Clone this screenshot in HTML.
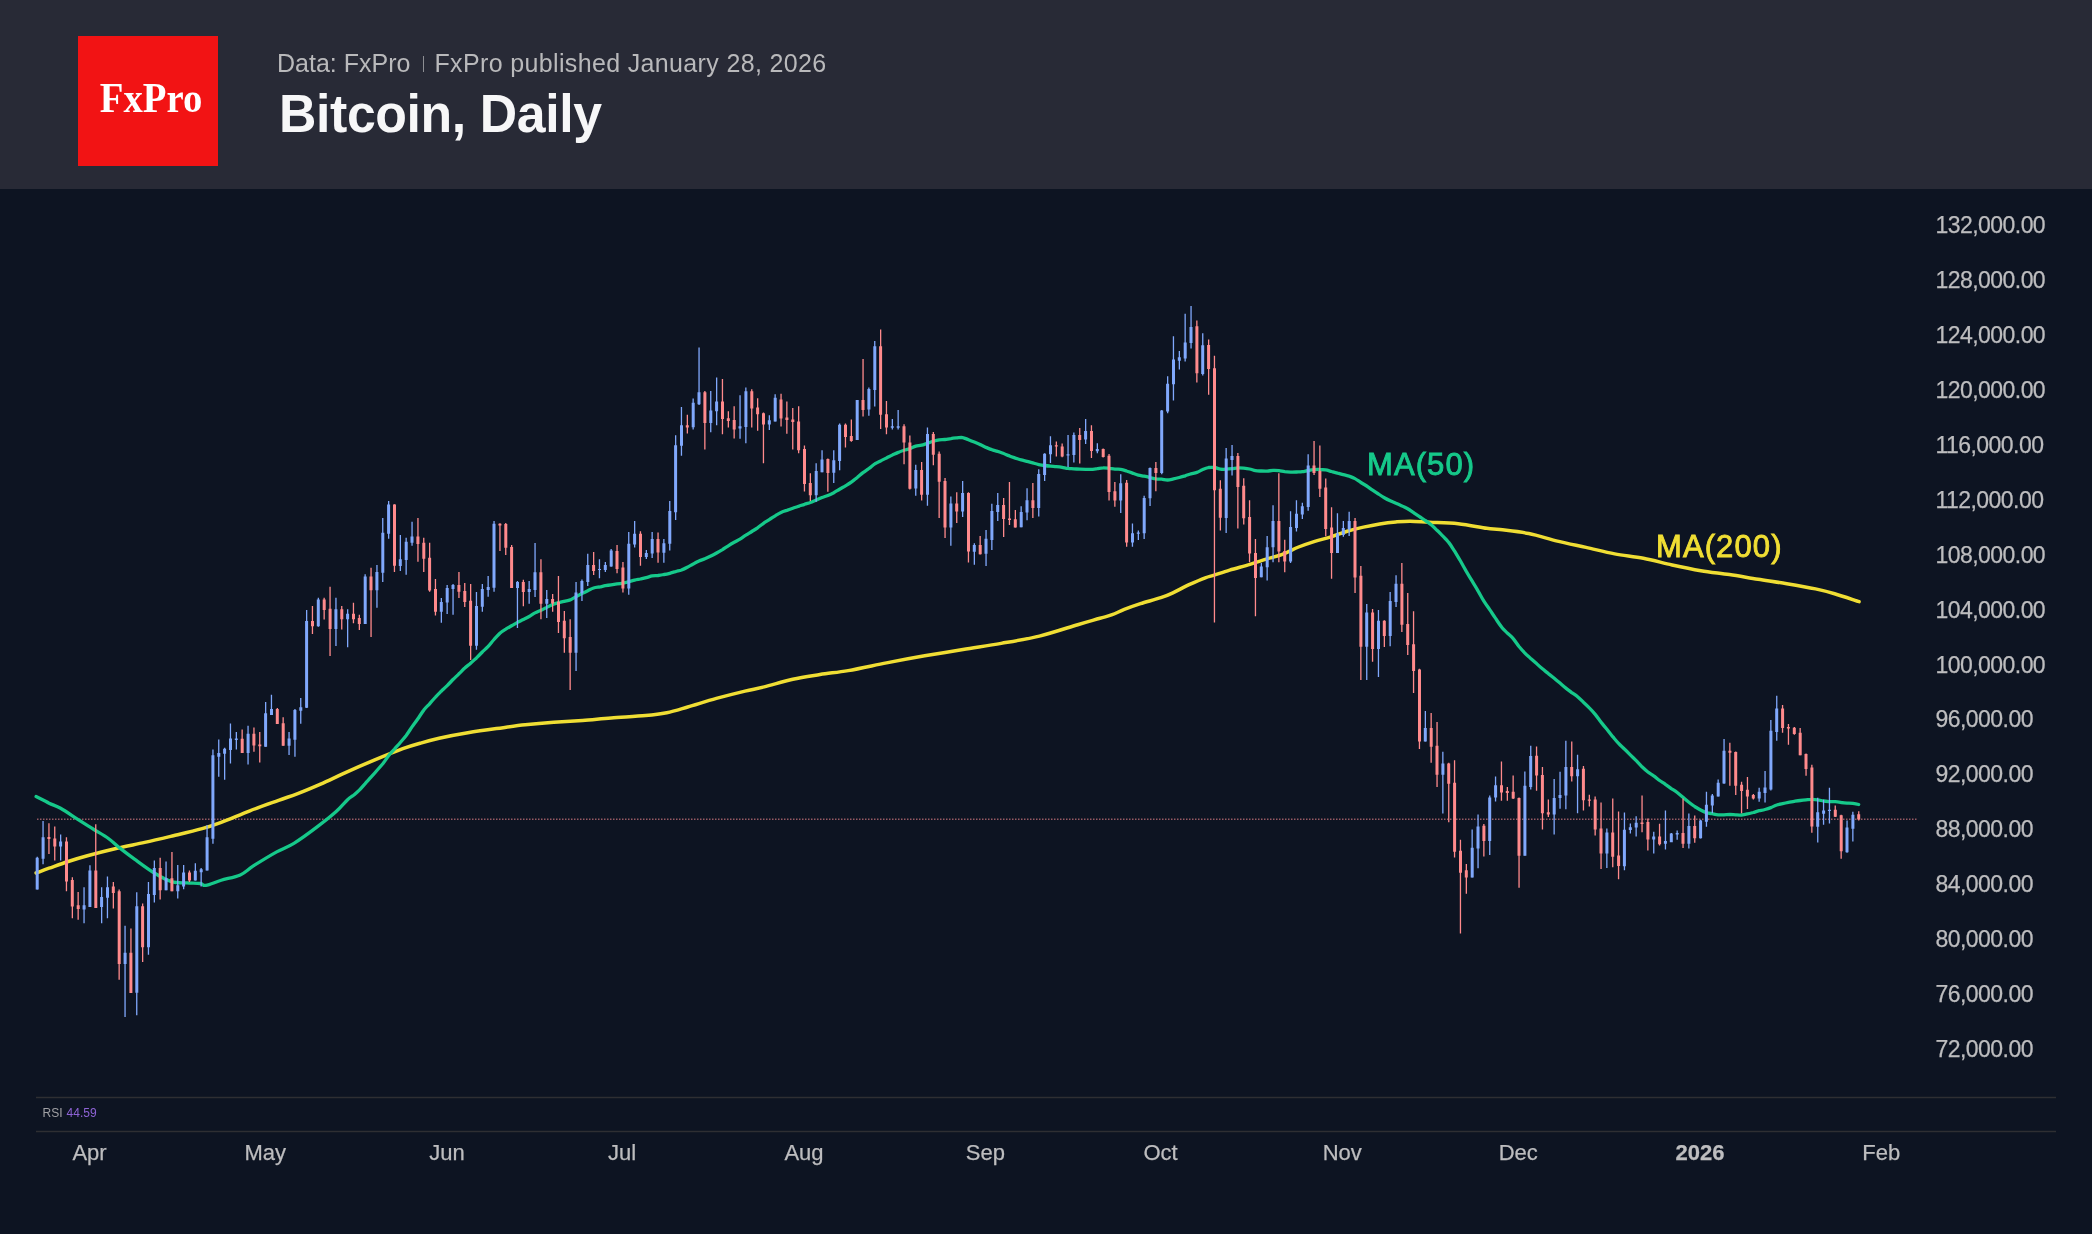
<!DOCTYPE html>
<html><head><meta charset="utf-8"><style>
html,body{margin:0;padding:0;}
body{width:2092px;height:1234px;background:#0d1422;position:relative;overflow:hidden;font-family:"Liberation Sans",sans-serif;}
#hdr{position:absolute;left:0;top:0;width:2092px;height:189px;background:#282a36;}
#logo{position:absolute;left:78px;top:36px;width:140px;height:129.5px;background:#f21314;}
#logo span{position:absolute;left:2.5px;top:40px;width:140px;text-align:center;font-family:"Liberation Serif",serif;font-weight:bold;color:#fff;font-size:43px;line-height:1;letter-spacing:0px;transform:scaleX(0.9);transform-origin:70px 0;}
.sub{position:absolute;top:48px;color:#b9b9bb;font-size:25px;line-height:30px;white-space:nowrap;}
#sep{position:absolute;left:422.5px;top:56px;width:1.5px;height:16px;background:#8d8e93;}
#title{position:absolute;left:278.5px;top:84px;color:#f7f7f8;font-size:54.5px;font-weight:bold;line-height:60px;white-space:nowrap;letter-spacing:-0.4px;transform:scaleX(0.95);transform-origin:0 0;}
svg{position:absolute;left:0;top:0;will-change:transform;}
#hdr{will-change:transform;}
.yl{font-size:23px;fill:#bdbdbf;letter-spacing:-0.55px;stroke:#bdbdbf;stroke-width:0.25px;}
.ml{font-size:22px;fill:#bdbdbf;stroke:#bdbdbf;stroke-width:0.25px;}
.ml.b{font-weight:bold;}
.rsi{font-size:12px;fill:#a0a0a4;}
.rsiv{font-size:12px;fill:#8e63d6;}
.ma{font-size:31px;stroke-width:0.9px;letter-spacing:1.1px;}
</style></head><body>
<div id="hdr">
<div id="logo"><span id="lt">FxPro</span></div>
<div class="sub" style="left:277px">Data: FxPro</div><div id="sep"></div><div class="sub" style="left:434.5px;letter-spacing:0.35px">FxPro published January 28, 2026</div>
<div id="title">Bitcoin, Daily</div>
</div>
<svg width="2092" height="1234" viewBox="0 0 2092 1234">
<line x1="36" y1="1097.5" x2="2056" y2="1097.5" stroke="#2e2f33" stroke-width="1.3"/>
<line x1="36" y1="1131.5" x2="2056" y2="1131.5" stroke="#2e2f33" stroke-width="1.3"/>
<line x1="37" y1="819.2" x2="1918" y2="819.2" stroke="#e08088" stroke-opacity="0.65" stroke-width="1.5" stroke-dasharray="1.5 1.5"/>
<path d="M36.1 873C38.3 872.2 43.8 870.1 49.1 868.2C54.5 866.3 61.8 863.6 68.2 861.5C74.6 859.4 79.4 858 87.4 855.8C95.4 853.6 106.5 850.7 116 848.5C125.5 846.3 135.1 844.5 144.7 842.4C154.3 840.3 163.8 838 173.4 835.7C183 833.4 194.1 830.8 202.1 828.6C210.1 826.4 213.2 825.3 221.2 822.3C229.2 819.3 240.3 814.5 249.9 810.8C259.5 807.1 270.6 803.2 278.6 800.3C286.6 797.4 290.7 796.3 297.7 793.6C304.7 790.9 312.6 787.6 320.6 784.1C328.6 780.6 336.6 776.6 345.5 772.6C354.4 768.6 364.6 764.2 374.2 760.2C383.8 756.2 395.2 751.5 402.8 748.7C410.4 745.9 413.9 745 420 743.3C426.1 741.5 431.1 740 439.1 738.2C447.1 736.5 458.2 734.4 467.8 732.8C477.4 731.2 486.9 729.9 496.5 728.6C506.1 727.3 515.7 725.8 525.2 724.8C534.8 723.8 544.2 723 553.8 722.3C563.3 721.6 572.9 721.1 582.5 720.4C592.1 719.7 600.7 718.7 611.2 717.9C621.7 717.1 636.4 716.5 645.6 715.6C654.9 714.7 659.7 714.1 666.7 712.7C673.7 711.3 679.4 709.4 687.7 707C696 704.6 706.9 701 716.4 698.4C725.9 695.8 737 693 745 691.1C753 689.2 756.2 688.9 764.2 686.9C772.2 684.9 783.5 681.4 792.8 679.3C802.1 677.2 810.8 676 820 674.5C829.2 673 837.1 672.5 848.2 670.6C859.3 668.7 873.8 665.4 886.5 662.9C899.2 660.4 912 658 924.7 655.8C937.5 653.6 950.2 651.6 963 649.5C975.8 647.4 988.5 645.6 1001.2 643.4C1013.9 641.2 1026.7 639.2 1039.4 636.1C1052.2 633 1067.6 627.7 1077.7 624.7C1087.8 621.7 1094.2 620 1100 618.3C1105.8 616.6 1108.2 616.2 1112.2 614.7C1116.2 613.2 1119.6 611.2 1124.3 609.4C1129 607.6 1134.4 605.7 1140.5 603.7C1146.6 601.8 1155.4 599.5 1160.8 597.7C1166.2 595.9 1168.2 595 1172.9 592.8C1177.6 590.6 1183.7 587.2 1189.1 584.7C1194.5 582.2 1201.2 579.3 1205.3 577.8C1209.4 576.2 1209.4 576.7 1213.5 575.4C1217.6 574.1 1223.6 571.9 1229.7 570.1C1235.8 568.3 1243.9 566.2 1250 564.4C1256.1 562.6 1260.8 560.9 1266.2 559.2C1271.6 557.5 1277 556.3 1282.4 554.3C1287.8 552.3 1293.2 549.2 1298.6 547C1304 544.8 1309.4 543 1314.8 541.3C1320.2 539.6 1325.6 538.6 1331 536.9C1336.4 535.2 1341.8 532.8 1347.2 531.2C1352.6 529.6 1358.1 528.3 1363.5 527.1C1368.9 525.9 1374.3 524.8 1379.7 523.9C1385.1 523 1390.9 522.3 1395.9 521.9C1401 521.5 1404.4 521.2 1410 521.2C1415.6 521.2 1421.4 521.8 1429.4 522.2C1437.4 522.6 1448.5 522.7 1458.1 523.7C1467.7 524.7 1479.8 527.3 1486.8 528.3C1493.8 529.3 1493 528.7 1500 529.6C1507 530.5 1519.1 531.6 1528.7 533.5C1538.3 535.4 1547.9 538.8 1557.4 541.1C1567 543.4 1576.5 545.3 1586 547.4C1595.5 549.5 1605.1 552.1 1614.7 553.9C1624.3 555.7 1633.8 556.4 1643.4 558.3C1653 560.1 1662.5 562.9 1672.1 565C1681.7 567.1 1691.2 569.1 1700.8 570.7C1710.3 572.3 1719.9 573.2 1729.4 574.6C1739 576 1748.5 577.8 1758.1 579.3C1767.7 580.8 1777.2 582.1 1786.8 583.7C1796.4 585.3 1807.5 587.2 1815.5 588.9C1823.5 590.6 1827.3 591.6 1834.6 593.7C1841.9 595.8 1855 600.4 1859.1 601.7" fill="none" stroke="#f0de34" stroke-width="3.5" stroke-linejoin="round" stroke-linecap="round"/>
<path d="M36.1 796.5C38.3 797.6 45 801.2 49.1 803.2C53.2 805.2 55.8 805.6 60.6 808.3C65.4 811 72.4 815.9 77.8 819.4C83.2 822.9 88 825.8 93.1 829C98.2 832.2 103.9 835.3 108.4 838.5C112.9 841.7 115.4 844.6 119.9 848.1C124.4 851.6 129.5 855.5 135.2 859.6C140.9 863.8 148.2 869.3 154.3 873C160.4 876.7 166.1 880 171.5 881.6C176.9 883.2 182 882.6 186.8 882.9C191.6 883.2 197 883.1 200.2 883.5C203.4 883.9 202.4 885.9 205.9 885.4C209.4 884.9 215.5 882 221.2 880.2C226.9 878.5 234.9 877.3 240.3 874.9C245.7 872.5 247.6 869.5 253.7 865.7C259.8 861.9 270 855.6 276.7 851.9C283.4 848.2 287.2 847.4 293.9 843.3C300.6 839.2 309.8 832.4 316.8 827.1C323.8 821.9 330.8 816.4 335.9 811.8C341 807.2 344.7 802.5 347.6 799.7C350.6 797 351.5 796.9 353.5 795.3C355.4 793.7 357.4 792.1 359.3 790.2C361.3 788.2 363.2 785.7 365.2 783.6C367.1 781.4 369.1 779.4 371 777.2C373 775 375 772.8 376.9 770.5C378.9 768.3 380.8 766.2 382.8 763.8C384.7 761.3 386.7 758.1 388.6 755.7C390.6 753.2 392.5 751.3 394.5 749.1C396.4 746.9 398.4 744.8 400.3 742.5C402.3 740.2 404.2 738.1 406.2 735.5C408.1 732.9 410.1 729.7 412 726.9C414 724.1 416 721.6 417.9 718.8C419.9 715.9 421.8 712.6 423.8 710.1C425.7 707.6 427.7 705.9 429.6 703.8C431.6 701.6 433.5 699.1 435.5 697.1C437.4 695 439.4 693.1 441.3 691.2C443.3 689.3 445.2 687.6 447.2 685.6C449.1 683.7 451.1 681.5 453 679.5C455 677.5 457 675.7 458.9 673.8C460.9 671.9 462.8 669.8 464.8 668C466.7 666.2 468.7 664.9 470.6 663.2C472.6 661.5 474.5 659.7 476.5 657.9C478.4 656 480.4 654 482.3 652C484.3 650.1 486.2 648.5 488.2 646.4C490.1 644.3 492.1 641.6 494 639.5C496 637.3 498 635 499.9 633.2C501.9 631.5 503.8 630.3 505.8 629.1C507.7 627.8 509.7 626.9 511.6 625.8C513.6 624.7 515.5 623.5 517.5 622.4C519.4 621.4 521.4 620.5 523.3 619.5C525.3 618.5 527.2 617.6 529.2 616.5C531.1 615.4 533.1 613.9 535 612.9C537 611.9 538.9 611.2 540.9 610.3C542.9 609.4 544.8 608.3 546.8 607.4C548.7 606.4 550.7 605.3 552.6 604.5C554.6 603.7 556.5 603.2 558.5 602.7C560.4 602.1 562.4 601.7 564.3 601.3C566.3 600.8 568.2 600.6 570.2 599.9C572.1 599.1 574.1 597.8 576 596.8C578 595.7 579.9 594.6 581.9 593.6C583.9 592.6 585.8 591.7 587.8 590.7C589.7 589.8 591.7 588.6 593.6 588C595.6 587.4 597.5 587.3 599.5 587C601.4 586.6 603.4 586.1 605.3 585.7C607.3 585.4 609.2 585.1 611.2 584.8C613.1 584.5 615.1 584.2 617 583.9C619 583.7 620.9 583.5 622.9 583.1C624.9 582.8 626.8 582.3 628.8 581.8C630.7 581.3 632.7 580.6 634.6 580.1C636.6 579.6 638.5 579.4 640.5 579C642.4 578.6 644.4 578.2 646.3 577.6C648.3 577.1 650.2 576.3 652.2 575.9C654.1 575.6 656.1 575.7 658 575.5C660 575.2 661.9 574.9 663.9 574.5C665.9 574.2 667.8 573.8 669.8 573.3C671.7 572.8 673.7 572.1 675.6 571.6C677.6 571 679.5 570.7 681.5 570C683.4 569.2 685.4 568.2 687.3 567.2C689.3 566.2 691.2 565.1 693.2 564.1C695.1 563 697.1 562 699 561.1C701 560.2 702.9 559.6 704.9 558.8C706.9 558 708.8 557.1 710.8 556.1C712.7 555.2 714.7 554.1 716.6 553C718.6 551.9 720.5 550.8 722.5 549.6C724.4 548.4 726.4 547 728.3 545.8C730.3 544.5 732.2 543.4 734.2 542.3C736.1 541.2 738.1 540.3 740 539.1C742 537.9 743.9 536.4 745.9 535.2C747.8 533.9 749.8 532.8 751.8 531.5C753.7 530.3 755.7 529.1 757.6 527.8C759.6 526.4 761.5 524.7 763.5 523.3C765.4 522 767.4 520.9 769.3 519.6C771.3 518.4 773.2 517 775.2 515.8C777.1 514.6 779.1 513.3 781 512.4C783 511.5 784.9 511 786.9 510.4C788.8 509.7 790.8 509 792.8 508.3C794.7 507.6 796.7 507 798.6 506.3C800.6 505.7 802.5 504.9 804.5 504.3C806.4 503.6 808.4 503.2 810.3 502.5C812.3 501.8 814.2 500.9 816.2 500.1C818.1 499.3 820.1 498.3 822 497.5C824 496.8 825.9 496.3 827.9 495.5C829.8 494.7 831.8 493.7 833.8 492.7C835.7 491.6 837.7 490.3 839.6 489.2C841.6 488 843.5 487 845.5 485.8C847.4 484.7 849.4 483.6 851.3 482.2C853.3 480.8 855.2 479.1 857.2 477.5C859.1 475.9 861.1 474.1 863 472.6C865 471.1 866.9 470 868.9 468.5C870.8 467.1 872.8 465.1 874.8 463.9C876.7 462.6 878.7 461.8 880.6 460.9C882.6 459.9 884.5 458.9 886.5 458C888.4 457 890.4 456.1 892.3 455.1C894.3 454.2 896.2 453.2 898.2 452.4C900.1 451.5 902.1 450.8 904 450.2C906 449.6 907.9 449.3 909.9 448.6C911.8 447.9 913.8 446.8 915.8 446.2C917.7 445.7 919.7 445.7 921.6 445.2C923.6 444.7 925.5 443.9 927.5 443.3C929.4 442.6 931.4 441.8 933.3 441.2C935.3 440.6 937.2 440.1 939.2 439.8C941.1 439.5 943.1 439.8 945 439.5C947 439.3 948.9 438.8 950.9 438.6C952.8 438.3 954.8 438.1 956.7 437.9C958.7 437.8 960.7 437.3 962.6 437.6C964.6 437.9 966.5 439 968.5 439.7C970.4 440.5 972.4 441.3 974.3 442.1C976.3 442.9 978.2 443.8 980.2 444.6C982.1 445.5 984.1 446.5 986 447.4C988 448.2 989.9 449.1 991.9 449.7C993.8 450.4 995.8 450.7 997.7 451.4C999.7 452 1001.7 452.8 1003.6 453.5C1005.6 454.3 1007.5 455.2 1009.5 455.9C1011.4 456.7 1013.4 457.4 1015.3 458.1C1017.3 458.7 1019.2 459.4 1021.2 459.9C1023.1 460.4 1025.1 460.8 1027 461.3C1029 461.8 1030.9 462.4 1032.9 462.9C1034.8 463.5 1036.8 464.2 1038.7 464.6C1040.7 465 1042.7 465.3 1044.6 465.5C1046.6 465.8 1048.5 466 1050.5 466.1C1052.4 466.3 1054.4 466.4 1056.3 466.6C1058.3 466.8 1060.2 467 1062.2 467.3C1064.1 467.6 1066.1 468.2 1068 468.4C1070 468.7 1071.9 468.6 1073.9 468.8C1075.8 468.9 1077.8 469.1 1079.7 469.2C1081.7 469.3 1083.7 469.3 1085.6 469.3C1087.6 469.4 1089.5 469.5 1091.5 469.4C1093.4 469.2 1095.4 468.9 1097.3 468.7C1099.3 468.4 1101.2 467.9 1103.2 467.9C1105.1 467.8 1107.1 468.1 1109 468.3C1111 468.5 1112.9 469 1114.9 469.1C1116.8 469.3 1118.8 469 1120.7 469.3C1122.7 469.6 1124.6 470.3 1126.6 471C1128.6 471.6 1130.5 472.5 1132.5 473.1C1134.4 473.8 1136.4 474.6 1138.3 475.1C1140.3 475.6 1142.2 475.8 1144.2 476.2C1146.1 476.6 1148.1 477.1 1150 477.6C1152 478 1153.9 478.5 1155.9 478.8C1157.8 479.1 1159.8 479 1161.7 479.2C1163.7 479.4 1165.6 480.1 1167.6 480C1169.6 479.9 1171.5 479.3 1173.5 478.9C1175.4 478.5 1177.4 478 1179.3 477.5C1181.3 477 1183.2 476.4 1185.2 475.8C1187.1 475.2 1189.1 474.4 1191 473.8C1193 473.3 1194.9 473.1 1196.9 472.4C1198.8 471.7 1200.8 470.4 1202.7 469.6C1204.7 468.7 1206.6 467.9 1208.6 467.5C1210.6 467.2 1212.5 467.2 1214.5 467.5C1216.4 467.7 1218.4 468.8 1220.3 469.1C1222.3 469.4 1224.2 469.3 1226.2 469.2C1228.1 469.1 1230.1 468.9 1232 468.7C1234 468.5 1235.9 468 1237.9 467.9C1239.8 467.8 1241.8 468 1243.7 468.2C1245.7 468.4 1247.6 468.6 1249.6 469C1251.6 469.4 1253.5 470.4 1255.5 470.7C1257.4 471.1 1259.4 471 1261.3 471C1263.3 471.1 1265.2 471.2 1267.2 471.1C1269.1 471 1271.1 470.5 1273 470.4C1275 470.3 1276.9 470.4 1278.9 470.6C1280.8 470.9 1282.8 471.4 1284.7 471.7C1286.7 471.9 1288.6 472 1290.6 472.1C1292.6 472.2 1294.5 472.1 1296.5 472C1298.4 471.9 1300.4 472 1302.3 471.7C1304.3 471.5 1306.2 470.8 1308.2 470.5C1310.1 470.2 1312.1 469.9 1314 469.7C1316 469.5 1317.9 469.4 1319.9 469.5C1321.8 469.5 1323.8 469.6 1325.7 469.9C1327.7 470.2 1329.6 471 1331.6 471.5C1333.5 472 1335.5 472.5 1337.5 473.1C1339.4 473.6 1341.4 474.2 1343.3 474.7C1345.3 475.3 1347.2 475.6 1349.2 476.2C1351.1 476.9 1353.1 477.6 1355 478.6C1357 479.7 1358.9 481.3 1360.9 482.5C1362.8 483.7 1364.8 484.8 1366.7 486C1368.7 487.3 1370.6 488.9 1372.6 490.2C1374.5 491.5 1376.5 492.8 1378.5 494C1380.4 495.3 1382.4 496.6 1384.3 497.7C1386.3 498.8 1388.2 499.8 1390.2 500.8C1392.1 501.7 1394.1 502.4 1396 503.3C1398 504.2 1399.9 505 1401.9 505.9C1403.8 506.9 1405.8 507.7 1407.7 508.8C1409.7 509.9 1411.6 511.3 1413.6 512.6C1415.5 513.9 1417.5 515.3 1419.5 516.6C1421.4 517.9 1423.4 519.1 1425.3 520.5C1427.3 521.8 1429.2 523.1 1431.2 524.8C1433.1 526.4 1435.1 528.4 1437 530.3C1439 532.2 1440.9 534.2 1442.9 536.2C1444.8 538.2 1446.8 539.9 1448.7 542.4C1450.7 544.9 1452.6 548.1 1454.6 551.2C1456.5 554.3 1458.5 557.7 1460.5 561C1462.4 564.4 1464.4 568 1466.3 571.4C1468.3 574.7 1470.2 577.9 1472.2 581.2C1474.1 584.4 1476.1 587.5 1478 590.9C1480 594.2 1481.9 598 1483.9 601.2C1485.8 604.3 1487.8 606.8 1489.7 609.6C1491.7 612.5 1493.6 615.6 1495.6 618.4C1497.5 621.3 1499.5 624.5 1501.5 626.9C1503.4 629.3 1505.4 631 1507.3 633C1509.3 634.9 1511.2 636.3 1513.2 638.6C1515.1 640.8 1517.1 644.1 1519 646.5C1521 648.9 1522.9 651.1 1524.9 653.1C1526.8 655.1 1528.8 656.7 1530.7 658.5C1532.7 660.2 1534.6 661.9 1536.6 663.6C1538.5 665.4 1540.5 667.2 1542.4 668.8C1544.4 670.5 1546.4 672 1548.3 673.6C1550.3 675.1 1552.2 676.6 1554.2 678.2C1556.1 679.8 1558.1 681.5 1560 683.1C1562 684.8 1563.9 686.5 1565.9 688.1C1567.8 689.6 1569.8 691.1 1571.7 692.6C1573.7 694 1575.6 695.1 1577.6 696.7C1579.5 698.3 1581.5 700.3 1583.4 702.2C1585.4 704 1587.4 705.9 1589.3 707.9C1591.3 709.9 1593.2 712 1595.2 714.4C1597.1 716.7 1599.1 719.6 1601 722.1C1603 724.6 1604.9 726.9 1606.9 729.3C1608.8 731.7 1610.8 734.3 1612.7 736.7C1614.7 739 1616.6 741.4 1618.6 743.4C1620.5 745.5 1622.5 747 1624.4 749C1626.4 750.9 1628.4 752.9 1630.3 754.8C1632.3 756.8 1634.2 758.7 1636.2 760.7C1638.1 762.7 1640.1 764.9 1642 766.8C1644 768.7 1645.9 770.5 1647.9 772C1649.8 773.5 1651.8 774.4 1653.7 775.8C1655.7 777.2 1657.6 779 1659.6 780.5C1661.5 781.9 1663.5 782.9 1665.4 784.3C1667.4 785.6 1669.4 787.2 1671.3 788.6C1673.3 789.9 1675.2 791 1677.2 792.5C1679.1 794 1681.1 795.7 1683 797.3C1685 799 1686.9 800.7 1688.9 802.2C1690.8 803.7 1692.8 805.2 1694.7 806.5C1696.7 807.7 1698.6 808.9 1700.6 810C1702.5 811 1704.5 812 1706.4 812.6C1708.4 813.3 1710.3 813.4 1712.3 813.7C1714.3 814.1 1716.2 814.6 1718.2 814.8C1720.1 815 1722.1 815 1724 814.9C1726 814.8 1727.9 814.5 1729.9 814.5C1731.8 814.5 1733.8 814.8 1735.7 814.9C1737.7 815 1739.6 815.2 1741.6 815C1743.5 814.9 1745.5 814.4 1747.4 813.9C1749.4 813.5 1751.3 813 1753.3 812.5C1755.3 811.9 1757.2 811.2 1759.2 810.7C1761.1 810.3 1763.1 810.1 1765 809.5C1767 809 1768.9 808.4 1770.9 807.6C1772.8 806.9 1774.8 805.6 1776.7 805C1778.7 804.3 1780.6 804 1782.6 803.6C1784.5 803.2 1786.5 802.8 1788.4 802.4C1790.4 802.1 1792.3 801.6 1794.3 801.3C1796.3 801 1798.2 800.7 1800.2 800.5C1802.1 800.3 1804.1 800.1 1806 799.9C1808 799.7 1809.9 799.4 1811.9 799.4C1813.8 799.3 1815.8 799.6 1817.7 799.9C1819.7 800.1 1821.6 800.7 1823.6 801C1825.5 801.3 1827.5 801.5 1829.4 801.7C1831.4 801.8 1833.3 801.6 1835.3 801.7C1837.3 801.9 1839.2 802.2 1841.2 802.5C1843.1 802.7 1845.1 802.9 1847 803.1C1849 803.2 1850.9 803.2 1852.9 803.4C1854.8 803.7 1857.8 804.3 1858.7 804.5" fill="none" stroke="#16c98a" stroke-width="3.3" stroke-linejoin="round" stroke-linecap="round"/>
<path d="M36.6 856.8h1.3v32.6h-1.3zM42.4 820.9h1.3v43.4h-1.3zM60 834.5h1.3v26.1h-1.3zM83.4 887.2h1.3v36.1h-1.3zM89.3 865.2h1.3v41.9h-1.3zM101 887.2h1.3v36.1h-1.3zM106.8 876.4h1.3v41.9h-1.3zM124.4 925.8h1.3v91.3h-1.3zM136.1 892.2h1.3v123h-1.3zM147.8 882h1.3v72.7h-1.3zM153.7 860.5h1.3v41.9h-1.3zM165.4 861.4h1.3v28.9h-1.3zM177.1 865.1h1.3v33.5h-1.3zM183 865.1h1.3v24.2h-1.3zM194.7 863.3h1.3v17.1h-1.3zM200.5 867.9h1.3v18.6h-1.3zM206.4 825.1h1.3v45.3h-1.3zM212.3 749.6h1.3v94.1h-1.3zM218.1 739.4h1.3v37.3h-1.3zM224 747.8h1.3v32h-1.3zM229.8 723.5h1.3v40.1h-1.3zM235.7 731.9h1.3v17.7h-1.3zM247.4 725.8h1.3v38.8h-1.3zM265 702.1h1.3v44.7h-1.3zM270.8 694.7h1.3v20.4h-1.3zM288.4 732h1.3v23h-1.3zM294.3 709h1.3v47.7h-1.3zM300.1 698h1.3v25.8h-1.3zM306 610h1.3v97.9h-1.3zM317.7 597.7h1.3v29.1h-1.3zM335.3 597.7h1.3v48.2h-1.3zM347 609.3h1.3v37.9h-1.3zM364.5 574.3h1.3v49.7h-1.3zM376.3 564.9h1.3v42.9h-1.3zM382.1 518h1.3v63.9h-1.3zM388 500.9h1.3v37.9h-1.3zM399.7 534.9h1.3v36h-1.3zM405.5 537.8h1.3v37h-1.3zM411.4 521.8h1.3v23.9h-1.3zM440.7 597.9h1.3v24.8h-1.3zM446.5 585.1h1.3v28.9h-1.3zM452.4 584.1h1.3v30.6h-1.3zM475.8 592.1h1.3v57.6h-1.3zM481.7 584.1h1.3v27.7h-1.3zM487.5 576h1.3v20.7h-1.3zM493.4 520.9h1.3v70.9h-1.3zM516.8 581.1h1.3v47h-1.3zM528.5 581.1h1.3v22.7h-1.3zM534.4 543h1.3v54h-1.3zM546.1 590h1.3v28.1h-1.3zM575.4 581.9h1.3v89.2h-1.3zM581.3 579.5h1.3v21.4h-1.3zM587.1 553.8h1.3v32.1h-1.3zM598.8 559.2h1.3v19h-1.3zM604.7 561.9h1.3v10.2h-1.3zM610.5 549h1.3v17.8h-1.3zM628.1 532h1.3v62.7h-1.3zM634 521.1h1.3v26.3h-1.3zM645.7 550.1h1.3v8.8h-1.3zM651.5 532h1.3v25.9h-1.3zM663.2 538.9h1.3v23.8h-1.3zM669.1 501.1h1.3v49.5h-1.3zM675 435.2h1.3v84.8h-1.3zM680.8 406.9h1.3v48.8h-1.3zM692.5 398.5h1.3v30.9h-1.3zM698.4 347.4h1.3v57.5h-1.3zM710.1 390.9h1.3v41.3h-1.3zM716 377.5h1.3v47.8h-1.3zM739.4 395.2h1.3v43.5h-1.3zM745.2 387.5h1.3v55.8h-1.3zM768.7 415.2h1.3v14.9h-1.3zM774.5 394.3h1.3v27.1h-1.3zM815.5 463.3h1.3v38.5h-1.3zM821.4 450.2h1.3v22h-1.3zM833.1 450.2h1.3v32.8h-1.3zM839 423.5h1.3v46.7h-1.3zM856.5 400h1.3v40h-1.3zM868.2 387.4h1.3v28.4h-1.3zM874.1 341.1h1.3v65.3h-1.3zM891.7 418.9h1.3v10.5h-1.3zM897.5 410.1h1.3v19.4h-1.3zM915.1 464.8h1.3v30.9h-1.3zM926.8 427.4h1.3v78.3h-1.3zM950.2 496.4h1.3v49.3h-1.3zM962 481.1h1.3v35.8h-1.3zM973.7 543.2h1.3v21.6h-1.3zM985.4 530.1h1.3v35.9h-1.3zM991.2 503.8h1.3v46.1h-1.3zM997.1 493h1.3v28h-1.3zM1020.5 506.2h1.3v21h-1.3zM1026.4 488.2h1.3v32.1h-1.3zM1038.1 469.3h1.3v47.1h-1.3zM1044 453.2h1.3v27.7h-1.3zM1049.8 436.2h1.3v26.8h-1.3zM1067.4 435h1.3v32.1h-1.3zM1073.2 432.4h1.3v30h-1.3zM1085 419h1.3v25.1h-1.3zM1096.7 443.2h1.3v10.1h-1.3zM1120.1 474.3h1.3v38.7h-1.3zM1131.8 523.6h1.3v23.2h-1.3zM1137.7 530.5h1.3v9.5h-1.3zM1143.5 495.8h1.3v43.2h-1.3zM1149.4 467.4h1.3v38.5h-1.3zM1161.1 409.9h1.3v64.4h-1.3zM1167 376.2h1.3v37.1h-1.3zM1172.8 336.2h1.3v64.4h-1.3zM1178.7 350.9h1.3v18.5h-1.3zM1184.5 313.7h1.3v47.8h-1.3zM1190.4 305.9h1.3v42.5h-1.3zM1202.1 333.3h1.3v42.1h-1.3zM1225.5 448h1.3v84.9h-1.3zM1231.4 445h1.3v30.6h-1.3zM1260.7 563h1.3v14.3h-1.3zM1266.5 535.9h1.3v44.7h-1.3zM1272.4 505.3h1.3v57h-1.3zM1289.9 511.3h1.3v51.7h-1.3zM1295.8 500.3h1.3v31.1h-1.3zM1301.7 502.8h1.3v16.1h-1.3zM1307.5 454.3h1.3v56.5h-1.3zM1336.8 513.2h1.3v39.7h-1.3zM1342.7 521h1.3v15.8h-1.3zM1348.5 511.8h1.3v24.3h-1.3zM1366.1 604.1h1.3v76h-1.3zM1377.8 610.1h1.3v66.9h-1.3zM1389.5 591.9h1.3v54.3h-1.3zM1395.4 575.3h1.3v31.8h-1.3zM1424.7 710.9h1.3v30.6h-1.3zM1442.2 751.7h1.3v61.9h-1.3zM1471.5 829.5h1.3v48.1h-1.3zM1477.4 814.4h1.3v53.9h-1.3zM1489.1 795.5h1.3v59.5h-1.3zM1494.9 776.5h1.3v25h-1.3zM1524.2 771.6h1.3v84h-1.3zM1530.1 745.7h1.3v43.7h-1.3zM1553.5 779.1h1.3v55.4h-1.3zM1559.4 771.8h1.3v36.9h-1.3zM1565.2 740.7h1.3v68.5h-1.3zM1576.9 754.7h1.3v58.6h-1.3zM1606.2 828.6h1.3v39.4h-1.3zM1623.8 812.6h1.3v57.6h-1.3zM1629.7 823.5h1.3v9.9h-1.3zM1635.5 816.2h1.3v20.4h-1.3zM1653.1 831.7h1.3v21.9h-1.3zM1664.8 810.5h1.3v39h-1.3zM1670.7 832.9h1.3v9.2h-1.3zM1676.5 830.5h1.3v9.2h-1.3zM1688.2 813.5h1.3v35.1h-1.3zM1699.9 819.7h1.3v18.9h-1.3zM1705.8 791.7h1.3v35.1h-1.3zM1711.7 794h1.3v19.3h-1.3zM1717.5 779.6h1.3v16.9h-1.3zM1723.4 739h1.3v44.7h-1.3zM1758.5 787.8h1.3v13.9h-1.3zM1764.4 770.9h1.3v31.6h-1.3zM1770.2 720h1.3v70.5h-1.3zM1776.1 695.7h1.3v45.1h-1.3zM1817.1 797.8h1.3v44.7h-1.3zM1822.9 799.8h1.3v25h-1.3zM1828.8 787.8h1.3v35.7h-1.3zM1846.4 820.5h1.3v32.3h-1.3zM1852.2 811.7h1.3v29.7h-1.3z" fill="#80a8fc"/>
<path d="M48.3 823.3h1.3v30.7h-1.3zM54.1 826.6h1.3v33.9h-1.3zM65.8 837.3h1.3v54h-1.3zM71.7 877.3h1.3v41h-1.3zM77.5 891.9h1.3v27.8h-1.3zM95.1 824.2h1.3v83.8h-1.3zM112.7 882h1.3v26.5h-1.3zM118.5 889.4h1.3v90.4h-1.3zM130.3 928.6h1.3v64.3h-1.3zM142 903.4h1.3v58.7h-1.3zM159.5 857.7h1.3v41.9h-1.3zM171.3 852.1h1.3v39.1h-1.3zM188.8 870.4h1.3v11.6h-1.3zM241.5 729.5h1.3v23.5h-1.3zM253.3 727.6h1.3v24.2h-1.3zM259.1 731.9h1.3v30.7h-1.3zM276.7 707.9h1.3v16h-1.3zM282.5 717.3h1.3v28.5h-1.3zM311.8 606h1.3v28h-1.3zM323.5 597.7h1.3v21.9h-1.3zM329.4 586.8h1.3v69.2h-1.3zM341.1 606h1.3v23.6h-1.3zM352.8 602.8h1.3v20.4h-1.3zM358.7 614.8h1.3v15.3h-1.3zM370.4 567.7h1.3v69.4h-1.3zM393.8 504.3h1.3v67.7h-1.3zM417.3 518h1.3v43.7h-1.3zM423.1 537.8h1.3v34.1h-1.3zM429 542.8h1.3v49h-1.3zM434.8 578.9h1.3v36.7h-1.3zM458.3 571.9h1.3v26h-1.3zM464.1 583h1.3v23.9h-1.3zM470 584.1h1.3v75.8h-1.3zM499.3 523.2h1.3v27.7h-1.3zM505.1 523h1.3v32.1h-1.3zM511 545.1h1.3v42.8h-1.3zM522.7 579.8h1.3v26.4h-1.3zM540.3 559.2h1.3v60h-1.3zM552 594h1.3v17.8h-1.3zM557.8 575.9h1.3v57.1h-1.3zM563.7 611.1h1.3v41.7h-1.3zM569.5 619.2h1.3v70.9h-1.3zM593 551.9h1.3v23h-1.3zM616.4 545.1h1.3v28.2h-1.3zM622.3 562.1h1.3v30.5h-1.3zM639.8 531.2h1.3v34.5h-1.3zM657.4 532.6h1.3v30.1h-1.3zM686.7 414.7h1.3v18.9h-1.3zM704.2 390.9h1.3v58.5h-1.3zM721.8 378.9h1.3v55.4h-1.3zM727.7 411.2h1.3v16.2h-1.3zM733.5 406.3h1.3v32.2h-1.3zM751.1 389.3h1.3v38.2h-1.3zM757 398.3h1.3v32.4h-1.3zM762.8 412.4h1.3v50.8h-1.3zM780.4 393.7h1.3v32.7h-1.3zM786.2 401.4h1.3v32.4h-1.3zM792.1 408.1h1.3v41.3h-1.3zM798 406.3h1.3v47h-1.3zM803.8 445.6h1.3v45.8h-1.3zM809.7 473.3h1.3v27.7h-1.3zM827.2 458.4h1.3v33.4h-1.3zM844.8 423.5h1.3v24h-1.3zM850.7 419.4h1.3v22.3h-1.3zM862.4 358.9h1.3v57.5h-1.3zM880 329.5h1.3v99.6h-1.3zM885.8 401.1h1.3v33.1h-1.3zM903.4 424.2h1.3v40h-1.3zM909.2 435.4h1.3v54.1h-1.3zM921 462.1h1.3v38.5h-1.3zM932.7 432h1.3v33.3h-1.3zM938.5 451.6h1.3v66.3h-1.3zM944.4 477.9h1.3v60h-1.3zM956.1 492.2h1.3v30.9h-1.3zM967.8 492.2h1.3v70.3h-1.3zM979.5 535.9h1.3v18.7h-1.3zM1003 498h1.3v39.1h-1.3zM1008.8 481.9h1.3v43.2h-1.3zM1014.7 510.1h1.3v17.5h-1.3zM1032.2 483.1h1.3v35h-1.3zM1055.7 441.6h1.3v15h-1.3zM1061.5 443.5h1.3v13.7h-1.3zM1079.1 428h1.3v35.4h-1.3zM1090.8 425.3h1.3v32.6h-1.3zM1102.5 448.4h1.3v9.1h-1.3zM1108.4 454.1h1.3v46.3h-1.3zM1114.2 482.1h1.3v24.6h-1.3zM1126 480h1.3v66.7h-1.3zM1155.2 462.1h1.3v29.1h-1.3zM1196.2 320.6h1.3v61.9h-1.3zM1208 339.6h1.3v55.2h-1.3zM1213.8 355.7h1.3v266.9h-1.3zM1219.7 480.2h1.3v50.2h-1.3zM1237.2 453.1h1.3v75.3h-1.3zM1243.1 478.2h1.3v46.4h-1.3zM1248.9 500.3h1.3v62h-1.3zM1254.8 538.9h1.3v77.3h-1.3zM1278.2 473.2h1.3v89.1h-1.3zM1284.1 539.7h1.3v32.6h-1.3zM1313.4 441h1.3v34.1h-1.3zM1319.2 445.5h1.3v51.5h-1.3zM1325.1 478.4h1.3v57.8h-1.3zM1330.9 507.2h1.3v71.6h-1.3zM1354.4 517.9h1.3v75h-1.3zM1360.2 566h1.3v114.1h-1.3zM1371.9 609.1h1.3v52.7h-1.3zM1383.7 620.3h1.3v26.8h-1.3zM1401.2 563.1h1.3v68.9h-1.3zM1407.1 592.9h1.3v62.2h-1.3zM1412.9 611.2h1.3v81.7h-1.3zM1418.8 668.7h1.3v80.2h-1.3zM1430.5 712.9h1.3v49.8h-1.3zM1436.4 722.1h1.3v64.9h-1.3zM1448.1 762.7h1.3v59.5h-1.3zM1453.9 760.2h1.3v97.2h-1.3zM1459.8 839.7h1.3v93.8h-1.3zM1465.7 863.9h1.3v29.9h-1.3zM1483.2 824.1h1.3v32.5h-1.3zM1500.8 761.4h1.3v39.3h-1.3zM1506.7 787h1.3v13.8h-1.3zM1512.5 775.5h1.3v23.6h-1.3zM1518.4 797.4h1.3v90.4h-1.3zM1535.9 746.5h1.3v44.2h-1.3zM1541.8 767h1.3v62.4h-1.3zM1547.7 799.5h1.3v17.5h-1.3zM1571.1 741.6h1.3v40h-1.3zM1582.8 765.9h1.3v44.5h-1.3zM1588.7 794.7h1.3v11.7h-1.3zM1594.5 796.6h1.3v38.9h-1.3zM1600.4 802.4h1.3v66.6h-1.3zM1612.1 798.4h1.3v68.8h-1.3zM1617.9 811.6h1.3v67.7h-1.3zM1641.4 795.5h1.3v36.7h-1.3zM1647.2 818.4h1.3v32.1h-1.3zM1658.9 823.7h1.3v21.9h-1.3zM1682.4 798.6h1.3v49.3h-1.3zM1694.1 815.5h1.3v27.3h-1.3zM1729.2 742.7h1.3v43.1h-1.3zM1735.1 751.6h1.3v43.4h-1.3zM1740.9 781.7h1.3v31.6h-1.3zM1746.8 777h1.3v31.9h-1.3zM1752.7 794h1.3v5.4h-1.3zM1781.9 705h1.3v27.7h-1.3zM1787.8 723.9h1.3v20.8h-1.3zM1793.7 727h1.3v7.7h-1.3zM1799.5 728.1h1.3v27.1h-1.3zM1805.4 753.6h1.3v22.2h-1.3zM1811.2 764.7h1.3v68.1h-1.3zM1834.6 805.5h1.3v11.6h-1.3zM1840.5 814.8h1.3v43.9h-1.3zM1858.1 811.2h1.3v9.2h-1.3z" fill="#ff8a8c"/>
<path d="M35.7 857.8h3v31.7h-3zM41.6 837.3h3v21.4h-3zM59.1 841.4h3v5.2h-3zM82.6 905.3h3v4.3h-3zM88.4 870.4h3v36.7h-3zM100.1 896.9h3v10.2h-3zM106 887.2h3v10.6h-3zM123.6 952.8h3v11.2h-3zM135.3 906.2h3v86.6h-3zM147 894.1h3v53.1h-3zM152.8 867.9h3v27h-3zM164.6 878.2h3v12.1h-3zM176.3 885.3h3v6h-3zM182.1 872.6h3v14h-3zM193.8 870.7h3v9.7h-3zM199.7 869.2h3v3h-3zM205.6 837.2h3v33.2h-3zM211.4 755.2h3v83.5h-3zM217.3 753h3v3.7h-3zM223.1 748.7h3v5h-3zM229 738.4h3v11.6h-3zM234.8 738.4h3v1.5h-3zM246.6 733.8h3v19.2h-3zM264.1 713.3h3v33.5h-3zM270 709h3v6.1h-3zM287.6 738.5h3v7.2h-3zM293.4 710.1h3v29.6h-3zM299.3 707.2h3v3.5h-3zM305.1 620.9h3v86.9h-3zM316.8 599.5h3v26.7h-3zM334.4 609.3h3v19.7h-3zM346.1 613.7h3v5.5h-3zM363.7 576.5h3v47.5h-3zM375.4 572.1h3v18.2h-3zM381.3 532.7h3v40.1h-3zM387.1 504.6h3v29.2h-3zM398.8 559.3h3v6.6h-3zM404.7 541.8h3v18.2h-3zM410.5 536.4h3v6.4h-3zM439.8 602h3v9.8h-3zM445.7 588h3v14.6h-3zM451.5 585.1h3v3.8h-3zM475 605.9h3v39.8h-3zM480.8 588.9h3v17.8h-3zM486.7 587h3v2.9h-3zM492.5 523.8h3v63.9h-3zM516 581.9h3v6h-3zM527.7 588.9h3v3.2h-3zM533.5 572.2h3v17.8h-3zM545.3 598.9h3v4.9h-3zM574.5 592.4h3v60.3h-3zM580.4 581.1h3v12.2h-3zM586.3 564.9h3v17h-3zM598 568.9h3v1.2h-3zM603.8 564.9h3v5.2h-3zM609.7 550.6h3v15.9h-3zM627.3 543.8h3v44.6h-3zM633.1 533.7h3v10.9h-3zM644.8 553.1h3v3.8h-3zM650.7 538.9h3v14.7h-3zM662.4 543.2h3v9.5h-3zM668.3 510.9h3v32.8h-3zM674.1 445.3h3v66.9h-3zM680 425.3h3v20.4h-3zM691.7 402.7h3v24.6h-3zM697.5 392.2h3v12h-3zM709.3 410.5h3v12.6h-3zM715.1 401.5h3v9.7h-3zM738.5 426.3h3v2.3h-3zM744.4 391.2h3v35.9h-3zM767.8 420.2h3v4.3h-3zM773.7 397.8h3v23.6h-3zM814.7 471h3v24.3h-3zM820.5 459.4h3v12.8h-3zM832.3 460.2h3v12.6h-3zM838.1 424.8h3v36.2h-3zM855.7 400h3v40h-3zM867.4 389.1h3v20.4h-3zM873.3 346.3h3v43.6h-3zM890.8 426.3h3v1.5h-3zM896.7 426.3h3v1.5h-3zM914.3 469.9h3v18.5h-3zM926 434.1h3v60.6h-3zM949.4 503.6h3v23.8h-3zM961.1 493.1h3v18.5h-3zM972.8 545.1h3v6.6h-3zM984.5 538.8h3v15h-3zM990.4 511.1h3v28.9h-3zM996.2 505h3v7h-3zM1019.7 512h3v15.2h-3zM1025.5 500.3h3v12.2h-3zM1037.2 474.1h3v33.8h-3zM1043.1 453.7h3v21.4h-3zM1049 445.2h3v9h-3zM1066.5 454.2h3v1.2h-3zM1072.4 435h3v20.1h-3zM1084.1 430.9h3v8.7h-3zM1095.8 449.1h3v2.1h-3zM1119.2 483.2h3v17.3h-3zM1131 533.3h3v9.3h-3zM1136.8 532.6h3v1.2h-3zM1142.7 497.9h3v35.4h-3zM1148.5 468h3v30.3h-3zM1160.2 410.5h3v62.5h-3zM1166.1 383.8h3v27.8h-3zM1172 359.4h3v24.8h-3zM1177.8 357.3h3v3.4h-3zM1183.7 342.5h3v16h-3zM1189.5 326.9h3v16.2h-3zM1201.2 345.3h3v28.8h-3zM1224.7 458.6h3v59.3h-3zM1230.5 456.1h3v4h-3zM1259.8 566.5h3v10.8h-3zM1265.7 547.2h3v20.1h-3zM1271.5 520.9h3v26.4h-3zM1289.1 527.1h3v34.4h-3zM1295 513.8h3v14.1h-3zM1300.8 506.3h3v8.3h-3zM1306.7 465.6h3v41.4h-3zM1336 533.5h3v19.5h-3zM1341.8 528h3v7.1h-3zM1347.7 521h3v8.5h-3zM1365.2 612.6h3v34.1h-3zM1377 620.7h3v28.4h-3zM1388.7 601h3v35.1h-3zM1394.5 583.8h3v18.2h-3zM1423.8 727.9h3v13.6h-3zM1441.4 763.4h3v11.4h-3zM1470.7 847.7h3v29.9h-3zM1476.5 826.5h3v21.9h-3zM1488.2 797.4h3v43.7h-3zM1494.1 785.3h3v12.1h-3zM1523.4 785.7h3v70h-3zM1529.2 756.1h3v30.8h-3zM1552.7 798h3v16.5h-3zM1558.5 795.1h3v2.9h-3zM1564.4 767h3v28.6h-3zM1576.1 769.3h3v6.9h-3zM1605.4 832.6h3v20.9h-3zM1622.9 829.7h3v36.5h-3zM1628.8 827.2h3v2.9h-3zM1634.7 822.8h3v4.8h-3zM1652.2 836.6h3v2.8h-3zM1663.9 841h3v2.8h-3zM1669.8 833.6h3v8.6h-3zM1675.7 832.9h3v1.5h-3zM1687.4 825.9h3v17.9h-3zM1699.1 820.6h3v17.6h-3zM1704.9 804.8h3v16.9h-3zM1710.8 795.5h3v10h-3zM1716.7 782.7h3v13.9h-3zM1722.5 750.8h3v32.8h-3zM1757.7 791.7h3v6.9h-3zM1763.5 787.4h3v5.5h-3zM1769.4 730.8h3v58.8h-3zM1775.2 708.5h3v23.6h-3zM1816.2 812.2h3v14.5h-3zM1822.1 810.6h3v3.1h-3zM1827.9 809.7h3v1.2h-3zM1845.5 827.6h3v24.6h-3zM1851.4 814.8h3v13.9h-3z" fill="#80a8fc"/>
<path d="M47.4 836.9h3v2.2h-3zM53.3 838.6h3v8h-3zM65 841.4h3v40.1h-3zM70.8 880.1h3v26.5h-3zM76.7 905.3h3v3.7h-3zM94.3 870.4h3v37.6h-3zM111.8 886.6h3v6.5h-3zM117.7 891.3h3v72.7h-3zM129.4 952.8h3v40.1h-3zM141.1 906.2h3v41h-3zM158.7 867.9h3v22.4h-3zM170.4 878.2h3v13h-3zM188 872.6h3v7.8h-3zM240.7 738.8h3v14.2h-3zM252.4 733.8h3v11.7h-3zM258.3 744.4h3v1.9h-3zM275.8 709h3v14.9h-3zM281.7 723.2h3v22.6h-3zM311 620.9h3v5.3h-3zM322.7 599.5h3v10.5h-3zM328.6 608.7h3v20.4h-3zM340.3 609.3h3v9.9h-3zM352 613.7h3v5.5h-3zM357.8 618.1h3v5.9h-3zM369.5 576.5h3v13.8h-3zM393 504.6h3v61.2h-3zM416.4 536.4h3v7.6h-3zM422.3 542.8h3v16h-3zM428.1 557.8h3v32.8h-3zM434 588.9h3v22.9h-3zM457.4 585.1h3v6.7h-3zM463.3 590.9h3v11.1h-3zM469.1 600.8h3v44.9h-3zM498.4 523.8h3v1.7h-3zM504.3 524h3v23.8h-3zM510.1 547h3v40.9h-3zM521.8 581.9h3v10.2h-3zM539.4 572.2h3v31.6h-3zM551.1 598.9h3v4.5h-3zM557 601.8h3v20.1h-3zM562.8 620.8h3v17.4h-3zM568.7 637h3v15.7h-3zM592.1 564.9h3v6.2h-3zM615.5 551.1h3v17.8h-3zM621.4 567.4h3v21.1h-3zM639 533.7h3v23.2h-3zM656.5 538.9h3v13.7h-3zM685.8 425.3h3v2.1h-3zM703.4 392.2h3v30.9h-3zM721 401.5h3v17.5h-3zM726.8 418.3h3v2.7h-3zM732.7 420h3v9.5h-3zM750.3 391.2h3v17.4h-3zM756.1 407.5h3v6.8h-3zM762 413.2h3v11.2h-3zM779.5 399.4h3v19h-3zM785.4 417.4h3v2.5h-3zM791.3 419.4h3v2.6h-3zM797.1 421.4h3v28.8h-3zM803 449.1h3v35h-3zM808.8 483h3v12.3h-3zM826.4 459h3v13.9h-3zM844 424.8h3v12.3h-3zM849.8 435.9h3v5.2h-3zM861.5 400h3v10.1h-3zM879.1 346.3h3v68.4h-3zM885 414.3h3v13.1h-3zM902.5 426.3h3v16.2h-3zM908.4 442.5h3v46.3h-3zM920.1 469.9h3v24.8h-3zM931.8 434.1h3v20.6h-3zM937.7 453.7h3v28h-3zM943.5 481.1h3v46.3h-3zM955.2 503.6h3v8h-3zM967 493.1h3v58.5h-3zM978.7 545.1h3v9.2h-3zM1002.1 505h3v13.9h-3zM1008 518.4h3v1.5h-3zM1013.8 519.3h3v8.3h-3zM1031.4 500.3h3v7.6h-3zM1054.8 445.2h3v1.2h-3zM1060.7 446.4h3v10.2h-3zM1078.2 435h3v5.1h-3zM1090 430.9h3v20.2h-3zM1101.7 449.1h3v7.8h-3zM1107.5 455.8h3v36.2h-3zM1113.4 491.2h3v9.3h-3zM1125.1 482.7h3v59.8h-3zM1154.4 468h3v5.1h-3zM1195.4 326.3h3v46.9h-3zM1207.1 345.1h3v23.9h-3zM1213 368.2h3v122h-3zM1218.8 488.7h3v29.1h-3zM1236.4 456.1h3v30.9h-3zM1242.2 485.7h3v32.6h-3zM1248.1 517.1h3v36.4h-3zM1254 553h3v25.1h-3zM1277.4 520.9h3v30.6h-3zM1283.2 551h3v10.5h-3zM1312.5 465.6h3v7.5h-3zM1318.4 471.1h3v17.6h-3zM1324.2 487.5h3v41.6h-3zM1330.1 527.4h3v25.5h-3zM1353.5 521h3v56.4h-3zM1359.4 575.7h3v71h-3zM1371.1 612.6h3v36.5h-3zM1382.8 620.7h3v15.4h-3zM1400.4 583.8h3v40.9h-3zM1406.2 623.9h3v21.1h-3zM1412.1 644.2h3v26.8h-3zM1418 669.6h3v71.9h-3zM1429.7 727.9h3v18.9h-3zM1435.5 745.7h3v29.1h-3zM1447.2 763.4h3v20.4h-3zM1453.1 782.8h3v69h-3zM1459 850.8h3v21.9h-3zM1464.8 870.3h3v7.3h-3zM1482.4 825.8h3v15.3h-3zM1500 785.3h3v7.3h-3zM1505.8 791.1h3v1.9h-3zM1511.7 791.8h3v6.6h-3zM1517.5 797.9h3v57.8h-3zM1535.1 755.7h3v19.7h-3zM1540.9 775.1h3v38.2h-3zM1546.8 812.2h3v2.3h-3zM1570.2 767h3v9.2h-3zM1581.9 768.8h3v31.4h-3zM1587.8 799.5h3v1.2h-3zM1593.7 799.5h3v29.9h-3zM1599.5 828.6h3v24.8h-3zM1611.2 832.6h3v24.2h-3zM1617.1 855.6h3v10.5h-3zM1640.5 822.4h3v1.5h-3zM1646.4 822.1h3v17.5h-3zM1658.1 836.6h3v7.7h-3zM1681.5 832.9h3v10.8h-3zM1693.2 825.9h3v12.3h-3zM1728.4 750.8h3v2h-3zM1734.2 751.9h3v33.9h-3zM1740.1 784.7h3v6.2h-3zM1745.9 789.8h3v6.8h-3zM1751.8 795.1h3v3.5h-3zM1781.1 708.5h3v19.6h-3zM1786.9 727h3v1.5h-3zM1792.8 727.8h3v6.2h-3zM1798.7 732.7h3v22.5h-3zM1804.5 753.9h3v15.1h-3zM1810.4 767.5h3v59.1h-3zM1833.8 809.7h3v7.1h-3zM1839.7 815.2h3v36h-3zM1857.2 814.3h3v5.1h-3z" fill="#ff8a8c"/>
<text x="1935.5" y="232.8" class="yl">132,000.00</text>
<text x="1935.5" y="287.8" class="yl">128,000.00</text>
<text x="1935.5" y="342.7" class="yl">124,000.00</text>
<text x="1935.5" y="397.7" class="yl">120,000.00</text>
<text x="1935.5" y="452.6" class="yl">116,000.00</text>
<text x="1935.5" y="507.6" class="yl">112,000.00</text>
<text x="1935.5" y="562.6" class="yl">108,000.00</text>
<text x="1935.5" y="617.5" class="yl">104,000.00</text>
<text x="1935.5" y="672.5" class="yl">100,000.00</text>
<text x="1935.5" y="727.4" class="yl">96,000.00</text>
<text x="1935.5" y="782.4" class="yl">92,000.00</text>
<text x="1935.5" y="837.4" class="yl">88,000.00</text>
<text x="1935.5" y="892.3" class="yl">84,000.00</text>
<text x="1935.5" y="947.3" class="yl">80,000.00</text>
<text x="1935.5" y="1002.2" class="yl">76,000.00</text>
<text x="1935.5" y="1057.2" class="yl">72,000.00</text>
<text x="89.5" y="1160.3" class="ml" text-anchor="middle">Apr</text>
<text x="265.2" y="1160.3" class="ml" text-anchor="middle">May</text>
<text x="446.9" y="1160.3" class="ml" text-anchor="middle">Jun</text>
<text x="622" y="1160.3" class="ml" text-anchor="middle">Jul</text>
<text x="804" y="1160.3" class="ml" text-anchor="middle">Aug</text>
<text x="985.3" y="1160.3" class="ml" text-anchor="middle">Sep</text>
<text x="1160.6" y="1160.3" class="ml" text-anchor="middle">Oct</text>
<text x="1342.2" y="1160.3" class="ml" text-anchor="middle">Nov</text>
<text x="1518.3" y="1160.3" class="ml" text-anchor="middle">Dec</text>
<text x="1700" y="1160.3" class="ml b" text-anchor="middle">2026</text>
<text x="1881.2" y="1160.3" class="ml" text-anchor="middle">Feb</text>
<text x="42.6" y="1117" class="rsi">RSI</text><text x="66.6" y="1117" class="rsiv">44.59</text>
<text x="1367" y="475" class="ma" fill="#16c98a" stroke="#16c98a">MA(50)</text>
<text x="1656" y="557" class="ma" fill="#f0de34" stroke="#f0de34">MA(200)</text>
</svg>
</body></html>
